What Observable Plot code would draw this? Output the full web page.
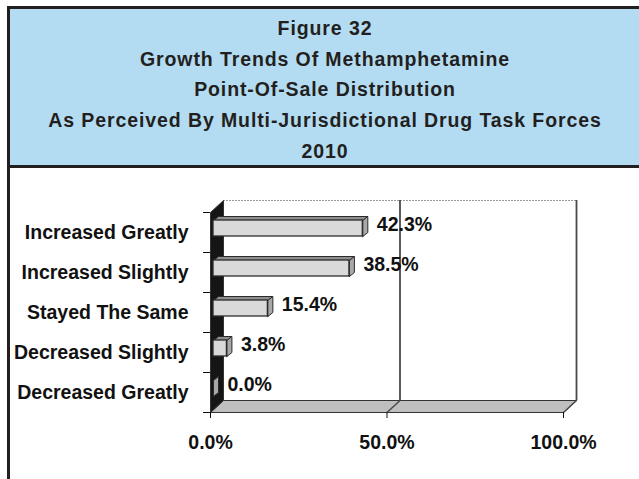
<!DOCTYPE html>
<html>
<head>
<meta charset="utf-8">
<script src="https://cdn.jsdelivr.net/npm/d3@7"></script>
<script src="https://cdn.jsdelivr.net/npm/@observablehq/plot@0.6"></script>
<style>
  html, body { margin: 0; padding: 0; background: #ffffff; }
  body { width: 639px; height: 479px; overflow: hidden; position: relative;
         font-family: "Liberation Sans", Arial, sans-serif; }
  #titlebox { position: absolute; left: 7px; top: 6px; width: 700px; height: 156px;
              background: #b3dcf3; border: 3px solid #231f20; border-right: none; }
  #titletext { position: absolute; left: 3px; top: 0; width: 624px; padding-top: 4px;
               text-align: center; font-weight: bold; font-size: 19.5px; line-height: 30.7px;
               letter-spacing: 0.9px; color: #231f20; }
  #chart { position: absolute; left: 0; top: 168px; }
  #leftborder { position: absolute; left: 7px; top: 168px; width: 3px; height: 311px;
                background: #231f20; z-index: 2; }
</style>
</head>
<body>
<div id="titlebox"><div id="titletext"></div></div>
<div id="chart"></div>
<div id="leftborder"></div>
<script>
const titleLines = [
  "Figure 32",
  "Growth Trends Of Methamphetamine",
  "Point-Of-Sale Distribution",
  "As Perceived By Multi-Jurisdictional Drug Task Forces",
  "2010"
];
const categories = [
  "Increased Greatly",
  "Increased Slightly",
  "Stayed The Same",
  "Decreased Slightly",
  "Decreased Greatly"
];
const values = [42.3, 38.5, 15.4, 3.8, 0.0];
const xTicks = [0, 50, 100];
const gridValues = [50, 100];

document.getElementById("titletext").innerHTML =
  titleLines.map(t => `<div>${t}</div>`).join("");

const W = 639, H = 311, mL = 210, mR = 76, mT = 44, mB = 67;
const n = categories.length;
const ux = 100 / (W - mL - mR);   // data units per pixel (x)
const uy = n / (H - mT - mB);     // data units per pixel (y)
const wallDX = 13 * ux, wallDY = 12 * uy;
const barDX = 5 * ux, barDY = 4 * uy, barHalf = 8 * uy;

const rows = categories.map((c, i) => ({
  c, v: values[i], yc: n - 0.5 - i, label: values[i].toFixed(1) + "%"
}));

const poly = (id, pts) => [...pts, pts[0]].map(([x, y]) => ({id, x, y}));

const backWall = poly("back", [[wallDX, wallDY], [100 + wallDX, wallDY], [100 + wallDX, n + wallDY], [wallDX, n + wallDY]]);
const floor = poly("floor", [[0, 0], [100, 0], [100 + wallDX, wallDY], [wallDX, wallDY]]);
const leftWall = poly("left", [[0, 0], [wallDX, wallDY], [wallDX, n + wallDY], [0, n]]);
const barTops = rows.flatMap((d, i) => {
  const t = d.yc + barHalf;
  return poly("t" + i, [[0, t], [d.v, t], [d.v + barDX, t + barDY], [barDX, t + barDY]]);
});
const barSides = rows.flatMap((d, i) => {
  const t = d.yc + barHalf, b = d.yc - barHalf;
  return poly("s" + i, [[d.v, b], [d.v, t], [d.v + barDX, t + barDY], [d.v + barDX, b + barDY]]);
});
const gridDiag = gridValues.flatMap(g => [{id: g, x: g, y: 0}, {id: g, x: g + wallDX, y: wallDY}]);

const font = {fontSize: 19.5, fontWeight: "bold"};

const chart = Plot.plot({
  width: W, height: H,
  marginLeft: mL, marginRight: mR, marginTop: mT, marginBottom: mB,
  style: {fontFamily: "'Liberation Sans', Arial, sans-serif", fontSize: "19.5px",
          fontWeight: "bold", color: "#111", background: "transparent", overflow: "visible"},
  x: {domain: [0, 100]},
  y: {domain: [0, n]},
  marks: [
    Plot.line(backWall, {x: "x", y: "y", z: "id", fill: "#ffffff", stroke: "none"}),
    Plot.ruleY([n + wallDY], {x1: wallDX, x2: 100 + wallDX, stroke: "#9a9a9a", strokeDasharray: "2,1"}),
    Plot.ruleX(gridValues, {x: g => g + wallDX, y1: wallDY, y2: n + wallDY, stroke: "#4a4a4a", strokeWidth: 1.8}),
    Plot.line(floor, {x: "x", y: "y", z: "id", fill: "#bfbfbf", stroke: "#333", strokeWidth: 1}),
    Plot.line(gridDiag, {x: "x", y: "y", z: "id", stroke: "#4a4a4a", strokeWidth: 1.5}),
    Plot.line(leftWall, {x: "x", y: "y", z: "id", fill: "#151515", stroke: "#333", strokeWidth: 1}),
    Plot.line(barTops, {x: "x", y: "y", z: "id", fill: "#8f8f8f", stroke: "#2b2b2b", strokeWidth: 1, dx: 3, dy: -4}),
    Plot.line(barSides, {x: "x", y: "y", z: "id", fill: "#a8a8a8", stroke: "#2b2b2b", strokeWidth: 1, dx: 3, dy: -4}),
    Plot.rect(rows, {x1: 0, x2: "v", y1: d => d.yc - barHalf, y2: d => d.yc + barHalf,
                     fill: "#d9d9d9", stroke: "#2b2b2b", strokeWidth: 1.3, dx: 3, dy: -4}),
    Plot.text(rows, {x: "v", y: "yc", text: "label", dx: 17, dy: -8, textAnchor: "start", fill: "#111", ...font}),
    Plot.axisY({ticks: d3.range(n + 1), tickSize: 7, tickFormat: () => "", stroke: "#111"}),
    Plot.axisY({ticks: rows.map(d => d.yc), tickSize: 0, tickPadding: 22,
                tickFormat: y => categories[Math.round(n - 0.5 - y)], fill: "#111", ...font}),
    Plot.axisX({ticks: xTicks, tickSize: 6, tickPadding: 17, tickFormat: d => d.toFixed(1) + "%",
                fill: "#111", stroke: "#111", ...font})
  ]
});
document.getElementById("chart").appendChild(chart);
</script>
</body>
</html>
